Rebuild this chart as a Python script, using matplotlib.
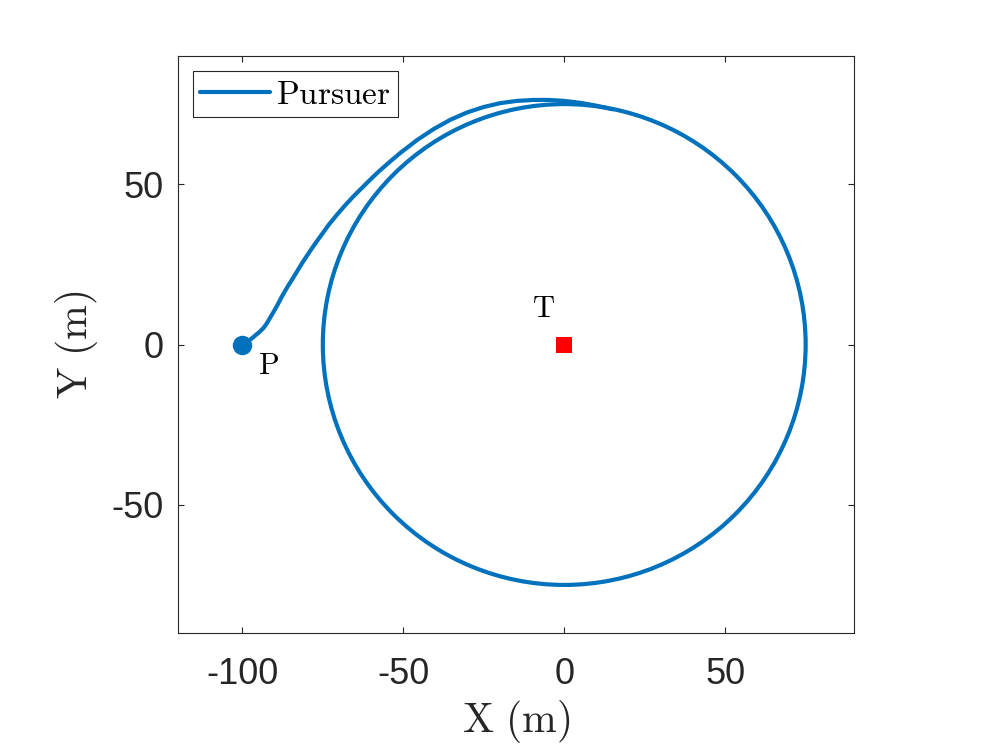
import matplotlib
matplotlib.use("Agg")
import matplotlib.pyplot as plt
import matplotlib.patches as mpatches

plt.rcParams["mathtext.fontset"] = "cm"
plt.rcParams["axes.unicode_minus"] = False

LINE_BLUE = "#0072BD"
AXIS_GREY = "#262626"

# approach leg of the pursuer (m)
approach_x = [-100.0, -98.6, -97.3, -96.0, -94.6, -93.4, -92.4, -91.4, -90.4, -89.0,
              -87.7, -86.2, -84.6, -83.0, -81.5, -79.4, -77.3, -75.2, -73.2, -70.6,
              -68.0, -65.4, -62.8, -60.2, -57.7, -54.3, -50.9, -45.7, -40.6, -35.4,
              -30.2, -25.0, -19.9, -14.7, -9.6, -4.8, 0.0, 5.0, 10.0, 15.0]
approach_y = [0.0, 0.8, 1.7, 2.8, 4.0, 5.2, 6.6, 8.3, 10.0, 12.5,
              15.0, 17.6, 20.2, 22.8, 25.3, 28.5, 31.6, 34.5, 37.3, 40.5,
              43.5, 46.3, 48.9, 51.5, 53.9, 56.9, 59.8, 63.8, 67.2, 70.1,
              72.4, 74.1, 75.3, 76.0, 76.3, 76.3, 76.0, 75.4, 74.5, 73.4]

# loiter orbit round the target
orbit_center = (0.0, 0.0)
orbit_radius = 75.0

pursuer_start = (-100.0, 0.0)
target_pos = (0.0, 0.0)

x_ticks = [-100, -50, 0, 50]
y_ticks = [-50, 0, 50]
x_lim = (-120, 90)
y_lim = (-90, 90)

fig = plt.figure(figsize=(9.97, 7.47), dpi=100)
ax = fig.add_axes([0.1785, 0.1526, 0.678, 0.7724])

line, = ax.plot(approach_x, approach_y, color=LINE_BLUE, linewidth=3.0,
                solid_capstyle="round", solid_joinstyle="round",
                label=r"$\mathrm{Pursuer}$", zorder=3)
orbit = mpatches.Circle(orbit_center, orbit_radius, fill=False,
                        edgecolor=LINE_BLUE, linewidth=3.0, zorder=3)
ax.add_patch(orbit)

ax.plot(*pursuer_start, marker="o", markersize=14, color=LINE_BLUE,
        markeredgewidth=0, zorder=4)
ax.plot(*target_pos, marker="s", markersize=11.5, color="#FF0000",
        markeredgewidth=0, zorder=4)

ax.text(-91.9, -6.7, r"$\mathrm{P}$", fontsize=22, ha="center", va="center")
ax.text(-6.5, 11.2, r"$\mathrm{T}$", fontsize=22, ha="center", va="center")

ax.set_xlim(*x_lim)
ax.set_ylim(*y_lim)
ax.set_xticks(x_ticks)
ax.set_yticks(y_ticks)
ax.set_xticklabels([str(t) for t in x_ticks], family="Liberation Sans", fontsize=26)
ax.set_yticklabels([str(t) for t in y_ticks], family="Liberation Sans", fontsize=26)
ax.tick_params(direction="in", length=4.5, width=0.8, colors=AXIS_GREY,
               top=True, right=True)
ax.tick_params(axis="x", pad=17)
ax.tick_params(axis="y", pad=10.5)
for sp in ax.spines.values():
    sp.set_color(AXIS_GREY)
    sp.set_linewidth(0.8)

ax.set_xlabel(r"$\mathrm{X\ (m)}$", fontsize=30, color=AXIS_GREY)
ax.set_ylabel(r"$\mathrm{Y\ (m)}$", fontsize=30, color=AXIS_GREY)
ax.xaxis.set_label_coords(0.5, -0.112)
ax.yaxis.set_label_coords(-0.116, 0.5)

leg = ax.legend(handles=[line], loc="upper left", fontsize=24,
                handlelength=2.1, handletextpad=0.2, borderpad=0.2,
                borderaxespad=0.45, fancybox=False, framealpha=1)
leg.get_frame().set_edgecolor(AXIS_GREY)
leg.get_frame().set_linewidth(0.8)

plt.savefig("out.png", dpi=100)
plt.close()
